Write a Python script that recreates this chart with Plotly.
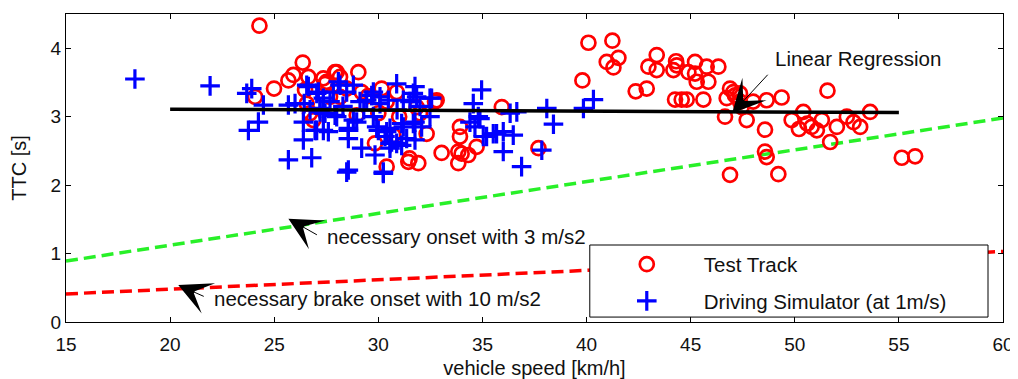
import plotly.graph_objects as go

# ---------------- data ----------------
track_speed = [40.09, 41.24, 40.97, 41.53, 41.29, 39.80, 42.36, 42.89, 43.37, 42.97, 43.37, 44.30, 44.17, 44.33,
               45.21, 45.77, 46.33, 44.89, 45.29, 45.85, 45.21, 44.25, 44.57, 44.81, 45.61, 46.89, 46.73, 47.13,
               47.37, 46.65, 47.69, 46.89, 47.37, 48.65, 49.37, 51.57, 48.57, 48.57, 48.65, 49.21, 50.41, 49.85,
               50.81, 51.06, 51.30, 52.02, 51.70, 52.50, 52.82, 53.14, 53.62, 55.14, 55.78, 50.20, 50.60, 47.05,
               47.45, 48.00,
               24.29, 24.99, 24.08, 25.68, 25.92, 26.37, 26.64, 26.48, 27.36, 27.52, 27.92, 28.16, 29.04, 28.48,
               29.20, 27.68, 26.72, 26.56, 26.88, 28.96, 30.16, 30.88, 30.40, 31.84, 32.80, 32.32, 29.84, 30.40,
               31.44, 31.92, 33.04, 33.92, 33.92, 33.84, 33.84, 34.32, 34.72, 35.93, 37.69, 30.72, 32.72, 34.00,
               31.50, 27.44, 28.00, 28.16, 29.50, 30.00, 31.00, 32.00]
track_ttc = [4.08, 4.11, 3.80, 3.86, 3.72, 3.53, 3.37, 3.41, 3.90, 3.73, 3.68, 3.81, 3.68, 3.75,
             3.80, 3.73, 3.73, 3.65, 3.51, 3.51, 3.63, 3.25, 3.25, 3.25, 3.25, 3.41, 3.27, 3.31,
             3.22, 3.00, 2.95, 2.15, 3.34, 3.24, 3.28, 3.38, 2.81, 2.49, 2.41, 2.16, 3.07, 2.95,
             2.85, 2.80, 2.95, 2.85, 2.63, 3.00, 2.92, 2.85, 3.07, 2.40, 2.42, 2.82, 2.90, 3.36,
             3.14, 3.22,
             4.33, 3.41, 3.29, 3.53, 3.61, 3.79, 3.58, 3.39, 3.56, 3.51, 3.65, 3.58, 3.65, 3.41,
             3.36, 3.29, 3.05, 3.19, 2.95, 3.02, 3.41, 3.36, 3.22, 3.14, 3.24, 2.75, 2.61, 2.27,
             2.34, 2.32, 2.47, 2.85, 2.71, 2.49, 2.32, 2.44, 2.56, 3.14, 2.54, 2.73, 3.22, 2.46,
             2.39, 3.48, 3.65, 3.29, 3.30, 3.05, 3.00, 3.05]

sim_speed = [18.31, 21.92, 23.92, 23.68, 24.48, 23.76, 24.24, 25.68, 26.80, 26.40, 26.40, 25.68, 26.00, 26.64,
             27.04, 27.60, 27.20, 27.84, 26.56, 27.12, 27.44, 28.16, 28.80, 27.92, 28.56, 28.56, 28.48, 29.20,
             29.84, 28.96, 29.44, 29.76, 30.08, 30.88, 31.76, 32.48, 29.92, 30.40, 30.64, 30.56, 31.12, 31.76,
             31.20, 31.76, 32.08, 32.48, 30.24, 34.56, 34.96, 34.80, 34.40, 34.64, 35.04, 35.52, 36.00, 36.48,
             36.00, 36.88, 36.33, 36.65, 38.09, 38.41, 37.85, 39.85, 40.33, 31.68, 34.88, 35.68, 35.20, 32.56,
             28.08, 28.48, 27.68, 27.36, 29.12, 29.68, 30.48, 30.08, 31.20, 31.52, 31.84, 27.36, 28.00, 28.80,
             29.76, 28.56, 30.00, 30.56, 30.32, 30.88, 31.36, 28.56, 30.24, 30.56, 31.12, 31.68, 26.44, 27.04,
             26.96, 27.36, 26.72, 27.20, 32.00, 30.90, 29.30, 28.30]
sim_ttc = [3.55, 3.45, 3.41, 3.34, 3.17, 2.80, 2.92, 2.37, 2.40, 2.66, 2.92, 3.17, 3.19, 3.44,
           2.80, 2.78, 3.07, 3.36, 3.46, 3.36, 3.05, 3.46, 3.46, 3.02, 2.80, 2.68, 2.19, 2.54,
           2.44, 2.92, 3.24, 3.36, 3.29, 3.48, 3.44, 3.27, 2.85, 2.78, 2.63, 2.54, 2.58, 2.66,
           2.85, 2.92, 2.85, 3.00, 2.19, 3.19, 3.39, 3.00, 2.92, 2.85, 2.71, 2.75, 2.78, 2.73,
           2.49, 2.27, 3.05, 3.07, 3.12, 2.89, 2.51, 3.12, 3.25, 3.34, 2.97, 2.75, 2.71, 3.27,
           3.51, 3.36, 3.22, 3.27, 3.22, 3.31, 3.24, 3.19, 3.24, 3.22, 3.29, 3.05, 3.00, 2.95,
           3.00, 2.83, 2.80, 2.83, 2.71, 2.61, 2.68, 2.22, 2.17, 2.61, 2.90, 2.90, 3.19, 3.34,
           2.80, 2.80, 3.10, 3.12, 3.15, 3.10, 3.10, 3.15]

regression_speed = [20, 55]
regression_ttc = [3.11, 3.06]

onset3_speed = [15, 60]
onset3_ttc = [0.89, 2.98]

onset10_speed = [15, 60]
onset10_ttc = [0.41, 1.03]

x_ticks = [15, 20, 25, 30, 35, 40, 45, 50, 55, 60]
y_ticks = [0, 1, 2, 3, 4]

FONT = "Liberation Sans, Arial, sans-serif"
FS_TICK = 19
FS_TEXT = 20.5
FS_TITLE = 20

fig = go.Figure()

fig.add_trace(go.Scatter(x=onset3_speed, y=onset3_ttc, mode="lines", showlegend=False,
                         line=dict(color="rgb(40,240,40)", width=3.5, dash="12px,6px")))
fig.add_trace(go.Scatter(x=onset10_speed, y=onset10_ttc, mode="lines", showlegend=False,
                         line=dict(color="rgb(255,0,0)", width=3.5, dash="12px,6px")))
fig.add_trace(go.Scatter(x=track_speed, y=track_ttc, mode="markers", name="Test Track",
                         legendgroup="a",
                         marker=dict(symbol="circle-open", size=14, color="rgb(255,0,0)",
                                     line=dict(width=2.7, color="rgb(255,0,0)"))))
fig.add_trace(go.Scatter(x=sim_speed, y=sim_ttc, mode="markers", name="Driving Simulator (at 1m/s)",
                         legendgroup="b",
                         marker=dict(symbol="cross-thin", size=14, color="rgb(0,0,255)",
                                     line=dict(width=3.2, color="rgb(0,0,255)"))))
fig.add_trace(go.Scatter(x=regression_speed, y=regression_ttc, mode="lines", showlegend=False,
                         line=dict(color="black", width=3.5)))

arrow = dict(showarrow=True, arrowhead=3, arrowsize=5.5, arrowwidth=1, arrowcolor="black",
             standoff=0, text="", xref="x", yref="y")
txt = dict(showarrow=False, xanchor="left", yanchor="middle", xref="x", yref="y",
           font=dict(family=FONT, size=FS_TEXT, color="#111"))
annotations = [
    dict(arrow, x=46.99, y=3.05, ax=37, ay=-40),
    dict(txt, x=48.96, y=3.85, text="Linear Regression"),
    dict(arrow, x=25.68, y=1.51, ax=30, ay=17),
    dict(txt, x=27.44, y=1.245, text="necessary onset with 3 m/s2"),
    dict(arrow, x=20.39, y=0.54, ax=27, ay=12),
    dict(txt, x=22.0, y=0.346, text="necessary brake onset with 10 m/s2"),
]

# page body has an 8px default margin: figure is shifted by 8px, so size/margins compensate
fig.update_layout(
    width=1010, height=371,
    margin=dict(l=58, r=15, t=6, b=57, autoexpand=False),
    paper_bgcolor="white", plot_bgcolor="white",
    font=dict(family=FONT, size=FS_TICK, color="#111"),
    annotations=annotations,
    shapes=[dict(type="rect", xref="paper", yref="paper", x0=0.559, x1=0.984, y0=0.016, y1=0.25,
                 fillcolor="white", line=dict(color="black", width=1), layer="above")],
    legend=dict(x=0.559, y=0.252, xanchor="left", yanchor="top", bgcolor="rgba(0,0,0,0)",
                borderwidth=0, itemwidth=104, font=dict(family=FONT, size=FS_TEXT, color="#111"),
                tracegroupgap=7),
    xaxis=dict(range=[15, 60], tickvals=x_ticks, ticks="inside", ticklen=5, tickcolor="black",
               showline=True, linecolor="black", linewidth=1, mirror="ticks", showgrid=False,
               zeroline=False, ticklabelstandoff=5,
               title=dict(text="vehicle speed [km/h]", standoff=12, font=dict(size=FS_TITLE)),
               tickfont=dict(size=FS_TICK)),
    yaxis=dict(range=[0, 4.5], tickvals=y_ticks, ticks="inside", ticklen=5, tickcolor="black",
               showline=True, linecolor="black", linewidth=1, mirror="ticks", showgrid=False,
               zeroline=False,
               title=dict(text="TTC [s]", standoff=21, font=dict(size=FS_TITLE)),
               tickfont=dict(size=FS_TICK)),
)

fig.write_html("out.html")
